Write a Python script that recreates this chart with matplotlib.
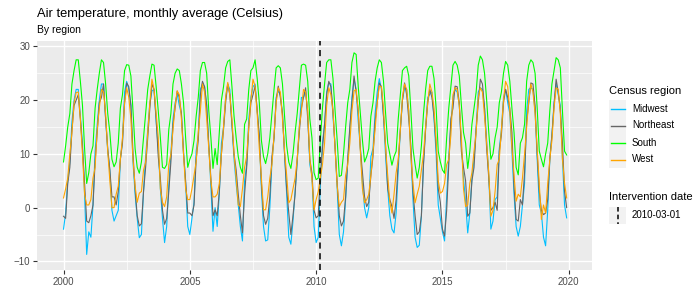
import matplotlib
matplotlib.use("Agg")
import matplotlib.pyplot as plt
import numpy as np
from matplotlib.lines import Line2D
from matplotlib.patches import Rectangle

plt.rcParams["font.family"] = ["Liberation Sans", "DejaVu Sans"]

# monthly averages (Celsius), one row per year 2000..2019, Jan..Dec
midwest = [
    [-4, -1, 5, 8.5, 16, 20, 22, 22, 17, 12, 2.5, -8.7],
    [-4.5, -5.5, 0.5, 10.5, 15.5, 20, 23, 23, 16.5, 10.5, 7, -0.5],
    [-2.5, -1.5, -0.5, 9, 12.5, 21.5, 23.5, 22, 19, 8.5, 2.5, -2],
    [-5.6, -5, 3, 9.5, 14.5, 19.5, 21.7, 22, 16, 11, 3.5, -2],
    [-6.5, -3.5, 4, 10, 16.5, 19.5, 21.1, 19, 17.5, 10.5, 4.5, -3.5],
    [-5, -2, 1, 10.5, 13.5, 22, 23, 22.5, 19, 11.5, 4, -4.4],
    [0, -3.5, 2.5, 12, 15, 20.5, 23, 22, 15.5, 9, 4.5, 0.5],
    [-3.5, -6.2, 5, 8, 16.5, 20.5, 22.5, 23, 18, 13, 3.5, -3.5],
    [-6.2, -6, 0, 8.5, 13, 20.5, 21.7, 21, 17.5, 10, 2.5, -5.5],
    [-6.8, -2.5, 3, 8.5, 15, 20.5, 20.5, 21.7, 17.5, 8, 6, -3.5],
    [-6.5, -5.5, 4, 12, 15.5, 21.5, 23.2, 23, 17, 11.5, 3.5, -5],
    [-7.1, -4.5, 1.5, 8.5, 14.5, 20.5, 23.9, 22, 16, 11, 4.5, 0],
    [-1.9, 0, 9.5, 11, 17.5, 21.5, 24, 22, 17, 9.5, 3.5, -1.5],
    [-4, -4.7, -1, 7, 14.5, 20, 22.3, 22, 18, 10, 1.5, -5.5],
    [-7.4, -7, -1.5, 8.5, 15, 20.5, 21.1, 21.5, 16.5, 10, 0.5, -2],
    [-4.5, -6.2, 2, 9.5, 15.5, 20.5, 22, 21.5, 19, 11.5, 5.5, 1],
    [-4.7, -1, 5.5, 9, 15, 21.5, 22.3, 22, 18.5, 12.5, 6, -4],
    [-2.5, 1.5, 2, 11, 14.5, 20.5, 22, 19.5, 17.5, 10.5, 2.5, -3.5],
    [-5.3, -3.5, 0.5, 4.5, 18, 22, 22.3, 22, 18, 9, 0.5, -1],
    [-5.5, -7.1, -0.5, 9, 13.5, 19.5, 23, 21, 19, 9, 0.5, -1.9],
]
northeast = [
    [-1.6, -2, 4.5, 7.5, 14.5, 19, 20, 21, 16.5, 11, 4.5, -2.5],
    [-2.8, -1.5, 0.5, 8.5, 14, 19.5, 20.5, 23, 16.5, 11, 7, 2],
    [2, 0.5, 3, 9, 12, 19.5, 23.2, 22.5, 19, 10, 3.5, -1.5],
    [-3.4, -3, 3, 7.5, 13, 18.5, 23, 22, 16.5, 9.5, 5.5, -0.5],
    [-3.1, -2, 3, 8.5, 15.5, 18.5, 21.7, 20.5, 17.5, 10, 5, -1],
    [-1, -1.5, 0.5, 9, 12.5, 21, 23.5, 22.5, 19, 11.5, 5.5, -1.5],
    [-0.4, -1.5, 3, 10, 14.5, 19.5, 23, 21, 15.5, 10, 7, 2.5],
    [-1.5, -4.7, 2.5, 7.5, 15, 19.5, 21, 22.6, 18, 13.5, 4.5, -1.5],
    [-3.1, -2, 2, 9.5, 13, 20, 22.6, 20.5, 17.5, 10, 3.5, -1],
    [-5, -1.5, 2.5, 9, 14, 18.5, 20.5, 22.3, 16.5, 9, 6.5, -0.5],
    [-1.9, -1.5, 6, 11, 15.5, 21, 23.5, 22.5, 18, 11, 4.5, -1.5],
    [-3.4, -2.5, 2, 9, 15, 19.5, 24.5, 21.5, 18, 11, 6.5, 2],
    [0.2, 1, 6, 9.5, 16, 19.5, 23.2, 22.5, 17, 11.5, 3.5, 1.5],
    [0.2, -2, 1.5, 8.5, 14.5, 20, 23.2, 21, 16.5, 11.5, 3, -1.5],
    [-5, -4.5, -1.5, 8, 14.5, 19.5, 22, 20.5, 17, 11.5, 3.5, 1],
    [-4, -5.3, -0.5, 8, 16.5, 18.5, 22.6, 22.5, 19.5, 10.5, 7.5, 5],
    [-1.6, -1, 5, 7.5, 14.5, 19.5, 23.9, 23, 18.5, 11, 5.5, -0.5],
    [0, 1, -0.5, 10.5, 13.5, 19.5, 22, 20.5, 18.5, 14, 4, -2.2],
    [-2.5, 1.5, 0.5, 6.5, 16, 19.5, 23.2, 23, 19, 10, 3, -0.5],
    [-1.3, -1, 1.5, 9, 13.5, 19, 23.9, 21.5, 18, 12, 3, 0],
]
south = [
    [8.5, 11.5, 15, 17.5, 23, 25.5, 27.5, 27.5, 23.5, 19, 11, 4.5],
    [6.5, 10, 11.5, 18.5, 22, 25, 27.5, 27, 23, 17.5, 14, 9],
    [7.6, 8.5, 12, 18.5, 21, 25.5, 26.6, 26.5, 24.5, 18, 11, 7.5],
    [6.4, 8.5, 13, 17.5, 22, 24.5, 26.7, 26.5, 22.5, 18, 13, 7.5],
    [7.3, 8, 14.5, 17.5, 23, 25, 25.8, 25.5, 23, 19.5, 13, 7.5],
    [9, 10, 12.5, 17, 20.5, 25.5, 27, 27, 25, 18, 13, 7.3],
    [11, 8, 14, 20, 22.5, 26, 27.2, 27.5, 22.5, 17, 13, 9.5],
    [7.5, 6.4, 15.5, 16.5, 22, 25.5, 26, 27.5, 24, 19.5, 12.5, 9.5],
    [8.2, 10, 13, 17.5, 22, 26, 26.4, 26, 23, 17, 11.5, 8.5],
    [7.3, 10, 14, 17.5, 22, 26.5, 26.7, 26.5, 23.5, 16.5, 13, 6.5],
    [5.2, 5.5, 12.5, 18.5, 23, 27, 27.5, 27.5, 24, 18, 12.5, 5.8],
    [6, 10, 15, 19.5, 22, 27, 28.8, 28.5, 22.5, 17.5, 12.5, 8.5],
    [9.5, 11, 17, 19.5, 23.5, 26, 27.5, 27, 23.5, 17.5, 12, 10],
    [7.9, 9.5, 10.5, 16.5, 21, 25.5, 26, 26.3, 24.5, 18, 11, 8],
    [5.5, 7.5, 11.5, 17.5, 22, 25.5, 26.3, 26.3, 24, 18.5, 10.5, 8.5],
    [7, 6.4, 13, 18.5, 22.5, 26.5, 27.2, 26.5, 24.5, 19, 14, 12],
    [7.3, 10.5, 15.5, 18.5, 21.5, 26.5, 28.2, 27.5, 25, 20, 14, 9],
    [10, 13, 15, 19.5, 21.5, 25, 27.2, 26.5, 23.5, 18.5, 14, 7.5],
    [6.1, 12, 13, 15.5, 23.5, 26.5, 27.5, 27, 25, 18.5, 10.5, 9],
    [7.6, 10, 12, 18, 23, 25.5, 27.9, 27.5, 26, 18, 10.5, 9.8],
]
west = [
    [1.8, 3.5, 5.5, 10, 14, 19.5, 21.4, 21.5, 16.5, 10, 2.5, 0.5],
    [0.5, 1.5, 5.5, 7.5, 14.5, 18.5, 22, 21.5, 17.5, 10.5, 5, 0],
    [0, 2.5, 4, 9, 13, 19.5, 22.3, 20.5, 16.5, 9, 4, 1],
    [2.7, 3, 7, 8.5, 14, 19.5, 23.9, 22, 17.5, 13, 3.5, 1],
    [0.2, 2, 8, 10, 14.5, 19, 21.7, 21, 16.5, 10, 3.5, 1.5],
    [1.5, 3.5, 6, 8.5, 14, 18, 23, 21.5, 16.5, 11, 5, 2],
    [2, 2.5, 4.5, 10, 15, 20.5, 23.3, 21, 16.5, 10, 5.5, 0.5],
    [0.2, 3.5, 7.5, 9.5, 15, 20, 23.9, 22.5, 17.5, 11, 5.5, -0.4],
    [-0.4, 2, 5.5, 8, 13.5, 19.5, 22.3, 21.5, 16.5, 10.5, 6, 0.9],
    [1.5, 3.5, 5.5, 9, 15, 18, 22, 21.5, 18, 9, 5.5, -0.4],
    [1.5, 3, 5.5, 8, 12, 19, 22.3, 21, 18, 11, 4, 0.2],
    [1, 1.5, 6, 8, 12, 18, 21.7, 22, 18, 10.5, 3.5, 0.9],
    [1.5, 2.5, 6, 10.5, 14.5, 19.5, 22.6, 22.5, 18.5, 11, 6, 1],
    [-1, 2.5, 6.5, 9, 14.5, 20.5, 23, 22, 18, 9.5, 4.5, 0.9],
    [2.5, 4, 7, 10, 15, 19.5, 23, 21.5, 18.5, 12.5, 5, 2.7],
    [3, 4.5, 8, 9, 13.5, 21, 22.3, 22, 19, 13, 3.5, 0.2],
    [0.5, 4.5, 6.5, 10.5, 14, 20.5, 22.3, 21.5, 17, 12, 6.5, -1.6],
    [-0.5, 3, 8, 9, 14.5, 20, 23.5, 22.5, 18, 11, 6, 1.2],
    [2.5, 2, 5.5, 10, 15, 20, 23, 21.5, 17.5, 11, 4.5, -2.2],
    [0.5, -1, 4.5, 9, 12.5, 18.5, 22.3, 22, 17.5, 9, 4.5, 1.8],
]
regions = ["Midwest", "Northeast", "South", "West"]
colors = ["#00BFFF", "#666666", "#00FF00", "#FFA500"]
intervention = "2010-03-01"
intervention_x = 2010 + 59 / 365

years = np.arange(2000, 2020)
x = (years[:, None] + np.arange(12)[None, :] / 12).ravel()

W, H = 700, 300
fig = plt.figure(figsize=(7, 3), dpi=100)
ax = fig.add_axes([37 / W, 1 - 270 / H, 555 / W, 229 / H])
ax.set_facecolor("#EBEBEB")
for s in ax.spines.values():
    s.set_visible(False)

for name, data, c in zip(regions, [midwest, northeast, south, west], colors):
    ax.plot(x, np.ravel(data), color=c, lw=0.8, label=name)

ax.axvline(intervention_x, color="black", ls=(0, (4, 3)), lw=1.1)

ax.set_xlim(1998.95, 2020.92)
ax.set_ylim(-11.6, 31.0)
ax.set_xticks([2000, 2005, 2010, 2015, 2020])
ax.set_xticks([2002.5, 2007.5, 2012.5, 2017.5], minor=True)
ax.set_yticks([-10, 0, 10, 20, 30])
ax.set_yticks([-5, 5, 15, 25], minor=True)
ax.grid(which="major", color="white", lw=1.0)
ax.grid(which="minor", color="white", lw=0.5)
ax.set_axisbelow(True)
ax.tick_params(which="major", length=3, width=0.8, color="#333333",
               labelsize=7, labelcolor="#4D4D4D", pad=2)
ax.tick_params(which="minor", length=0)

fig.text(37 / W, 1 - 14 / H, "Air temperature, monthly average (Celsius)",
         fontsize=9.3, va="center", ha="left")
fig.text(37 / W, 1 - 30 / H, "By region", fontsize=7.5, va="center",
         ha="left")


# legends, laid out in figure pixels
def fx(px):
    return px / W


def fy(py):
    return 1 - py / H


def key_box(top):
    fig.add_artist(Rectangle((fx(609), fy(top + 17)), 17 / W, 17 / H,
                             transform=fig.transFigure, facecolor="#F2F2F2",
                             edgecolor="none"))


fig.text(fx(609), fy(90.5), "Census region", fontsize=8, va="center",
         ha="left")
for i, (name, c) in enumerate(zip(regions, colors)):
    top = 100 + 17 * i
    key_box(top)
    fig.add_artist(Line2D([fx(610.5), fx(624.5)], [fy(top + 8.5)] * 2,
                          transform=fig.transFigure, color=c, lw=1.0))
    fig.text(fx(632), fy(top + 8.5), name, fontsize=7, va="center",
             ha="left")

fig.text(fx(609), fy(197.5), "Intervention date", fontsize=8, va="center",
         ha="left")
key_box(207)
fig.add_artist(Line2D([fx(617.5)] * 2, [fy(207), fy(224)],
                      transform=fig.transFigure, color="black",
                      ls=(0, (3, 2)), lw=1.1))
fig.text(fx(632), fy(215.5), intervention, fontsize=7, va="center",
         ha="left")

fig.savefig("out.png", dpi=100)
